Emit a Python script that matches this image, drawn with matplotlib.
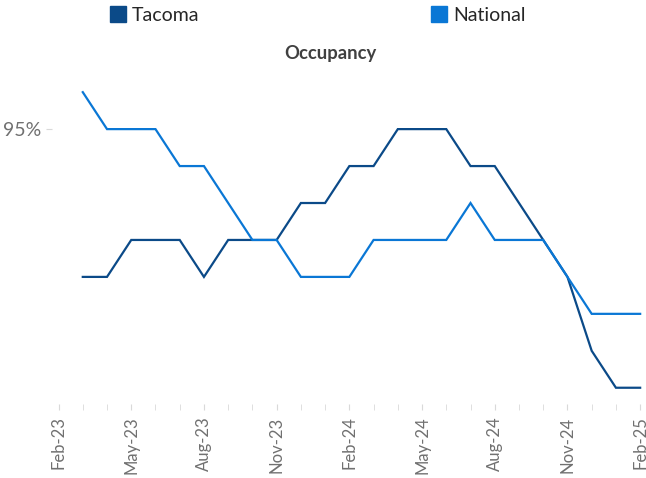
import numpy as np
import matplotlib
matplotlib.use('Agg')
from matplotlib import pyplot as plt
from matplotlib.patches import Patch
from matplotlib.ticker import FixedLocator, FuncFormatter

plt.rcParams['font.family'] = ['Lato', 'DejaVu Sans']

# months on the axis, Feb-23 .. Feb-25
months = ['Feb-23', 'Mar-23', 'Apr-23', 'May-23', 'Jun-23', 'Jul-23', 'Aug-23', 'Sep-23',
          'Oct-23', 'Nov-23', 'Dec-23', 'Jan-24', 'Feb-24', 'Mar-24', 'Apr-24', 'May-24',
          'Jun-24', 'Jul-24', 'Aug-24', 'Sep-24', 'Oct-24', 'Nov-24', 'Dec-24', 'Jan-25', 'Feb-25']
data_months = months[1:]

tacoma = [93.0, 93.0, 93.5, 93.5, 93.5, 93.0, 93.5, 93.5, 93.5, 94.0, 94.0, 94.5,
          94.5, 95.0, 95.0, 95.0, 94.5, 94.5, 94.0, 93.5, 93.0, 92.0, 91.5, 91.5]
national = [95.5, 95.0, 95.0, 95.0, 94.5, 94.5, 94.0, 93.5, 93.5, 93.0, 93.0, 93.0,
            93.5, 93.5, 93.5, 93.5, 94.0, 93.5, 93.5, 93.5, 93.0, 92.5, 92.5, 92.5]

c_tac = '#0B4A88'
c_nat = '#0A77D5'
gray = '#707070'

fig = plt.figure(figsize=(6.46, 4.78), dpi=100)
ax = fig.add_axes([52 / 646, 1 - 404 / 478, (645 - 52) / 646, (404 - 70) / 478])

x = [months.index(m) for m in data_months]
ax.plot(x, tacoma, color=c_tac, lw=1.6, solid_joinstyle='miter')
ax.plot(x, national, color=c_nat, lw=1.6, solid_joinstyle='miter')

for s in ax.spines.values():
    s.set_visible(False)

major = list(range(0, len(months), 3))
ax.xaxis.set_major_locator(FixedLocator(major))
ax.xaxis.set_minor_locator(FixedLocator(range(len(months))))
ax.set_xticklabels([months[i] for i in major], rotation=90, fontsize=12, color=gray)
ax.tick_params(axis='x', which='both', length=4, color='#d9d9d9', pad=5)

ax.set_yticks([95])
ax.yaxis.set_major_formatter(FuncFormatter(lambda v, p: f'{v:.0f}%'))
ax.tick_params(axis='y', length=4, color='#d9d9d9', labelsize=14, labelcolor=gray, pad=4)

ax.set_xlim(-0.27, 24.2)
ax.set_ylim(91.28, 95.8)

fig.text(330 / 646, 1 - 53 / 478, 'Occupancy', ha='center', va='center',
         fontsize=13.3, fontweight='bold', color='#404040')

handles = [Patch(color=c_tac, label='Tacoma'), Patch(color=c_nat, label='National')]
fig.legend(handles=handles, loc='center left', bbox_to_anchor=(92 / 646, 1 - 15 / 478),
           ncol=2, frameon=False, fontsize=14, handlelength=0.85, handleheight=0.85,
           handletextpad=0.3, columnspacing=11.9, labelcolor='#262626')

plt.savefig('out.png', dpi=100)
